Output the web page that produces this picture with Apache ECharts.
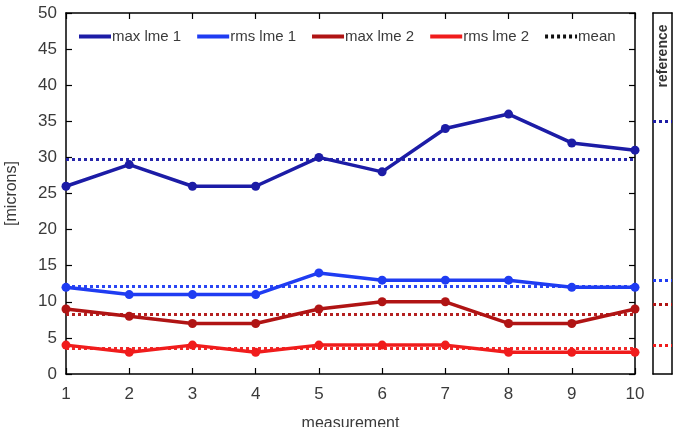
<!DOCTYPE html>
<html>
<head>
<meta charset="utf-8">
<script src="https://cdn.jsdelivr.net/npm/echarts@6/dist/echarts.min.js"></script>
<style>
  html, body { margin: 0; padding: 0; background: #fff; }
  #chart { width: 680px; height: 427px; }
</style>
</head>
<body>
<div id="chart"></div>
<script>
const measurements = [1, 2, 3, 4, 5, 6, 7, 8, 9, 10]
const maxLme1 = [26, 29, 26, 26, 30, 28, 34, 36, 32, 31]
const rmsLme1 = [12, 11, 11, 11, 14, 13, 13, 13, 12, 12]
const maxLme2 = [9, 8, 7, 7, 9, 10, 10, 7, 7, 9]
const rmsLme2 = [4, 3, 4, 3, 4, 4, 4, 3, 3, 3]
const seriesNames = ['max lme 1', 'rms lme 1', 'max lme 2', 'rms lme 2']
const meanValues = [29.8, 12.2, 8.3, 3.5]
const referenceValues = [35, 13, 9.7, 4]
const yTicks = [0, 5, 10, 15, 20, 25, 30, 35, 40, 45, 50]

const colors = ['#1c1ca6', '#1f3cf2', '#b01414', '#f01c1c']
const seriesData = [maxLme1, rmsLme1, maxLme2, rmsLme2]

const chart = echarts.init(document.getElementById('chart'))

const font = 'Liberation Sans, Arial, sans-serif'
const textColor = '#3a3a3a'
const dotted = [3, 3]

const frameAxis = (extra) => Object.assign({
  type: 'value',
  axisLine: { onZero: false, lineStyle: { color: '#000', width: 1.5 } },
  axisTick: { show: false },
  axisLabel: { show: false },
  splitLine: { show: false }
}, extra)

const tickStyle = { inside: true, length: 6, lineStyle: { color: '#000', width: 1.2 } }

const lineSeries = seriesData.map((vals, i) => ({
  name: seriesNames[i],
  type: 'line',
  xAxisIndex: 0,
  yAxisIndex: 0,
  data: measurements.map((m, j) => [m, vals[j]]),
  symbol: 'circle',
  symbolSize: 9,
  color: colors[i],
  lineStyle: { width: 3.5 },
  z: 3,
  markLine: {
    silent: true,
    symbol: 'none',
    label: { show: false },
    lineStyle: { type: dotted, width: 3, color: colors[i], opacity: 0.95 },
    data: [{ yAxis: meanValues[i] }]
  }
}))

// empty series only for the "mean" legend entry
lineSeries.push({
  name: 'mean',
  type: 'line',
  data: [],
  color: '#111',
  symbol: 'none',
  lineStyle: { type: dotted, width: 3 }
})

// reference panel on the right
lineSeries.push({
  type: 'line',
  xAxisIndex: 2,
  yAxisIndex: 2,
  data: [],
  markLine: {
    silent: true,
    symbol: 'none',
    label: { show: false },
    data: referenceValues.map((v, i) => ({
      yAxis: v,
      lineStyle: { type: dotted, width: 3, color: colors[i] }
    }))
  }
})

const option = {
  backgroundColor: '#fff',
  animation: false,
  textStyle: { fontFamily: font },
  grid: [
    { left: 66, right: 45, top: 13, bottom: 53, outerBoundsMode: 'none', containLabel: false },
    { left: 653, right: 8, top: 13, bottom: 53, outerBoundsMode: 'none', containLabel: false }
  ],
  graphic: [{
    type: 'text',
    x: 663,
    y: 56,
    rotation: Math.PI / 2,
    style: {
      text: 'reference',
      font: 'bold 14px ' + font,
      fill: '#333',
      align: 'center',
      verticalAlign: 'middle'
    }
  }],
  legend: {
    data: ['max lme 1', 'rms lme 1', 'max lme 2', 'rms lme 2', 'mean'],
    left: 72,
    top: 24,
    itemWidth: 32,
    itemHeight: 6,
    itemGap: 14,
    itemStyle: { opacity: 0 },
    lineStyle: { width: 4 },
    textStyle: { fontFamily: font, fontSize: 15, color: textColor, padding: [0, 0, 0, -4] }
  },
  xAxis: [
    frameAxis({
      gridIndex: 0,
      min: 1,
      max: 10,
      interval: 1,
      name: 'measurement',
      nameLocation: 'middle',
      nameGap: 42,
      nameTextStyle: { fontSize: 16, color: textColor, fontFamily: font },
      axisTick: tickStyle,
      axisLabel: { fontSize: 17, color: textColor, margin: 12 }
    }),
    frameAxis({ gridIndex: 0, position: 'top', min: 1, max: 10, interval: 1, axisTick: tickStyle }),
    frameAxis({ gridIndex: 1, min: 0, max: 1 }),
    frameAxis({ gridIndex: 1, position: 'top', min: 0, max: 1 })
  ],
  yAxis: [
    frameAxis({
      gridIndex: 0,
      min: yTicks[0],
      max: yTicks[yTicks.length - 1],
      interval: 5,
      name: '[microns]',
      nameLocation: 'middle',
      nameGap: 46,
      nameTextStyle: { fontSize: 16, color: textColor, fontFamily: font },
      axisTick: tickStyle,
      axisLabel: { fontSize: 17, color: textColor, margin: 9 }
    }),
    frameAxis({ gridIndex: 0, position: 'right', min: 0, max: 50, interval: 5, axisTick: tickStyle }),
    frameAxis({ gridIndex: 1, min: 0, max: 50 }),
    frameAxis({ gridIndex: 1, position: 'right', min: 0, max: 50 })
  ],
  series: lineSeries
}

chart.setOption(option)
</script>
</body>
</html>
